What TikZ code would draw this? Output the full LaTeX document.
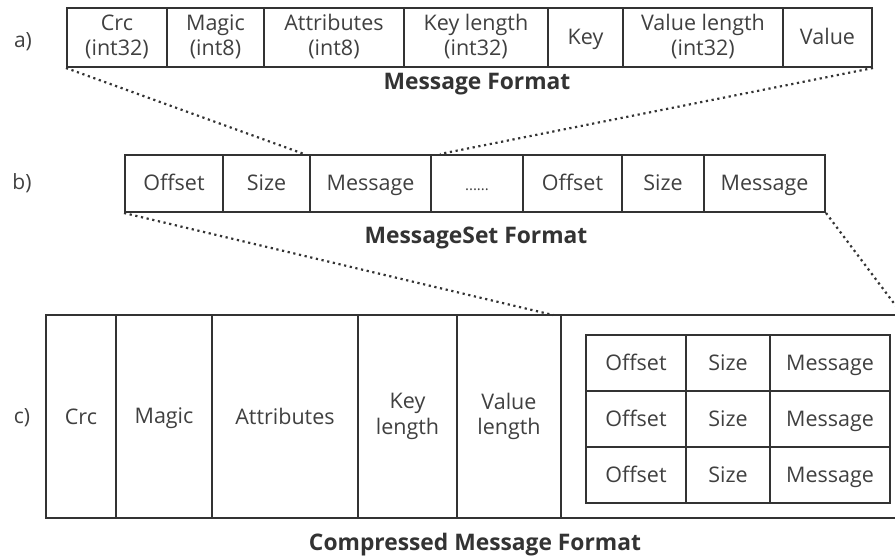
\documentclass[tikz,border=0pt]{standalone}
\usepackage{fontspec}
\setmainfont{Open Sans}
\definecolor{linec}{HTML}{333333}
\definecolor{textc}{HTML}{404040}
% strut that centres the cap height of a line on the cell centre
\newcommand\cellstrut{\rule[-5pt]{0pt}{25pt}}
\tikzset{
  cell/.style={draw=linec, line width=2pt, rectangle, inner sep=0pt,
    align=center, text=textc, font=\fontsize{21.5}{25.5}\selectfont,
    execute at begin node=\cellstrut, execute at end node=\cellstrut},
  rowlabel/.style={text=textc, font=\fontsize{21}{25.5}\selectfont, inner sep=0pt},
  caption/.style={text=linec, font=\fontsize{22.8}{27}\selectfont\bfseries, inner sep=0pt},
  zoomline/.style={draw=linec, line width=2.2pt, dash pattern=on 2.2pt off 3.6pt},
}
\begin{document}
\begin{tikzpicture}[x=1pt, y=-1pt]
\clip (0,0) rectangle (895,559);
\fill[white] (0,0) rectangle (895,559);

% a) message format
\begin{scope}[every node/.style={cell, minimum height=59pt}]
\node[minimum width=100pt] (a1) at (117,37.5)   {Crc\\(int32)};
\node[minimum width=97pt]  (a2) at (215.5,37.5) {Magic\\(int8)};
\node[minimum width=140pt] (a3) at (334,37.5)   {Attributes\\(int8)};
\node[minimum width=144pt] (a4) at (476,37.5)   {Key length\\(int32)};
\node[minimum width=75pt]  (a5) at (585.5,37.5) {Key};
\node[minimum width=160pt] (a6) at (703,37.5)   {Value length\\(int32)};
\node[minimum width=89pt]  (a7) at (827.5,37.5) {Value};
\end{scope}
\node[rowlabel] (la) at (23,42) {a)};
\node[caption] (ta) at (477,84) {Message Format};

% b) message set format
\begin{scope}[every node/.style={cell, minimum height=57pt}]
\node[minimum width=98pt]  (b1) at (174,183.5)   {Offset};
\node[minimum width=87pt]  (b2) at (266.5,183.5) {Size};
\node[minimum width=121pt] (b3) at (370.5,183.5) {Message};
\node[minimum width=92pt, font=\fontsize{15}{25.5}\selectfont] (b4) at (477,183.5) {......};
\node[minimum width=99pt]  (b5) at (572.5,183.5) {Offset};
\node[minimum width=82pt]  (b6) at (663,183.5)   {Size};
\node[minimum width=121pt] (b7) at (764.5,183.5) {Message};
\end{scope}
\node[rowlabel] (lb) at (22,183) {b)};
\node[caption] (tb) at (476,238) {MessageSet Format};

% c) compressed message format
\begin{scope}[every node/.style={cell, minimum height=203pt}]
\node[minimum width=70pt]  (c1) at (81,416.5)    {Crc};
\node[minimum width=96pt]  (c2) at (164,416.5)   {Magic};
\node[minimum width=146pt] (c3) at (285,416.5)   {Attributes};
\node[minimum width=99pt]  (c4) at (407.5,416.5) {Key\\length};
\node[minimum width=104pt] (c5) at (509,416.5)   {Value\\length};
\node[minimum width=340pt] (c6) at (731,416.5)   {};
\end{scope}
\node[rowlabel] (lc) at (22,418) {c)};
\node[caption] (tc) at (475,545) {Compressed Message Format};

% nested message set inside the compressed value
\begin{scope}[every node/.style={cell, minimum height=56pt}]
\foreach \r/\y in {1/363, 2/419, 3/475} {
  \node[minimum width=100pt] (t\r1) at (636,\y) {Offset};
  \node[minimum width=84pt]  (t\r2) at (728,\y) {Size};
  \node[minimum width=120pt] (t\r3) at (830,\y) {Message};
}
\end{scope}

% zoom guides
\coordinate (pa) at (304,154);
\coordinate (pb) at (440,154);
\coordinate (pc) at (553,315);
\draw[zoomline] (a1.south west) -- (pa);
\draw[zoomline] (a7.south east) -- (pb);
\draw[zoomline] (b1.south west) -- (pc);
\draw[zoomline] (b7.south east) -- (c6.north east);
\end{tikzpicture}
\end{document}
